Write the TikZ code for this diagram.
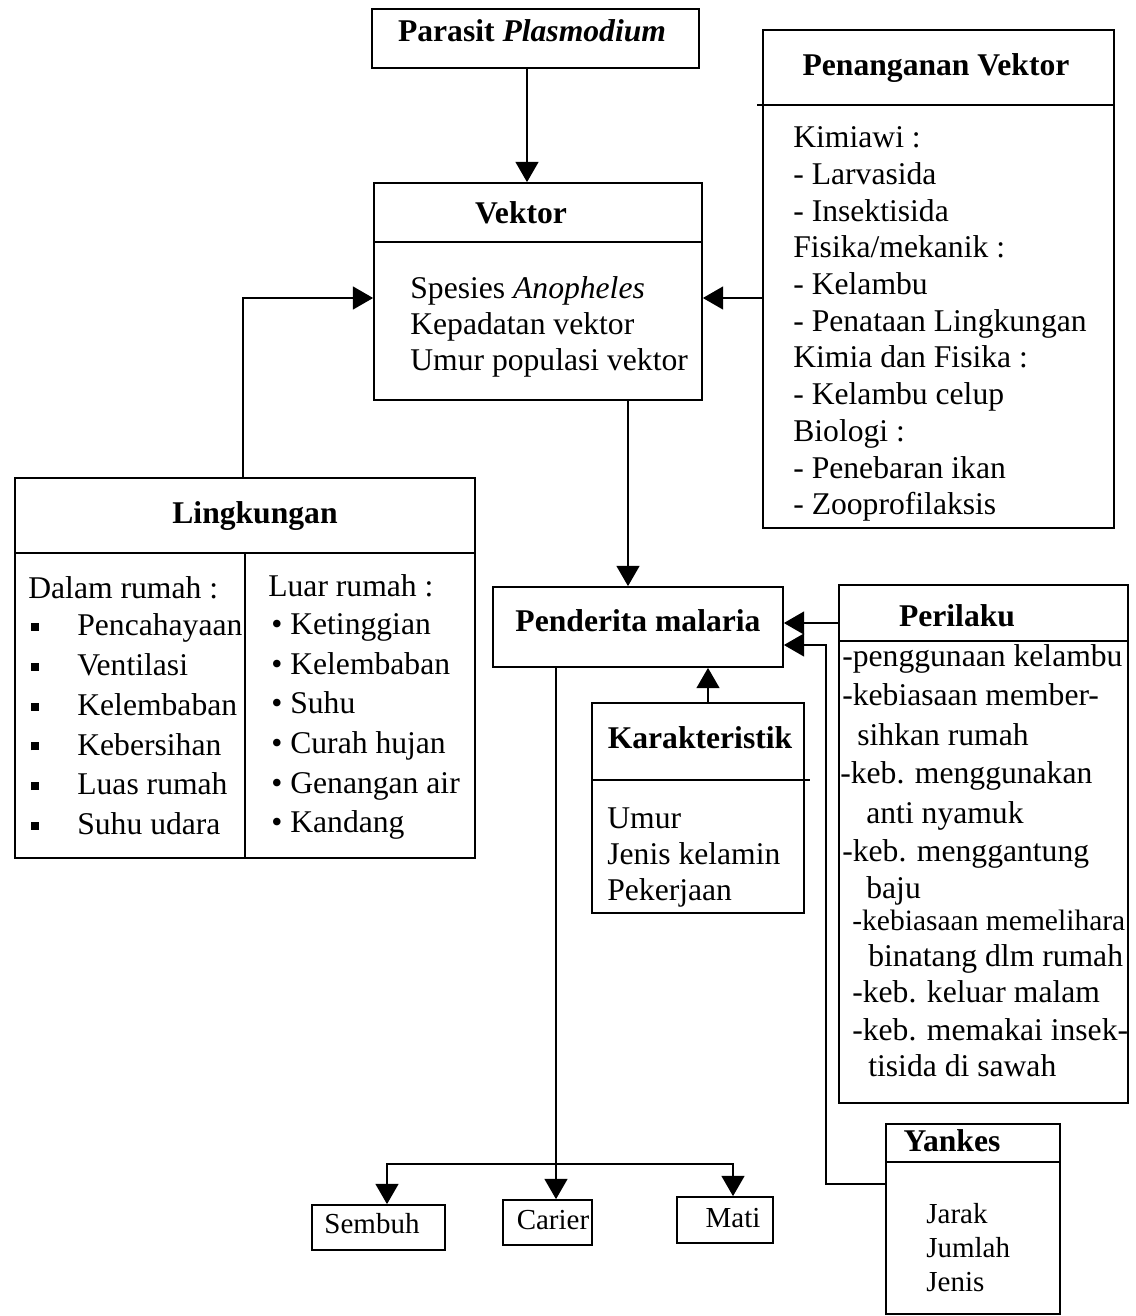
\documentclass[tikz,border=0pt]{standalone}
\usepackage{fontspec}
\setmainfont{Liberation Serif}
\usetikzlibrary{arrows.meta,fit}
\begin{document}
\begin{tikzpicture}[x=0.02cm,y=-0.02cm,
  box/.style={draw, line width=1pt, inner sep=0pt},
  txt/.style={inner sep=0pt, anchor=west, text height=13pt, text depth=3pt, font=\fontsize{18}{21}\selectfont},
  stxt/.style={txt, font=\fontsize{16.5}{19}\selectfont},
  ttl/.style={inner sep=0pt, text height=13pt, text depth=3pt, font=\fontsize{18}{21}\selectfont\bfseries},
  lbl/.style={inner sep=0pt, text height=13pt, text depth=3pt, font=\fontsize{16.5}{19}\selectfont},
  arr/.style={line width=1pt, -{Triangle[length=11.5pt,width=13pt]}},
  ln/.style={line width=1pt}]
\useasboundingbox (0,0) rectangle (1136,1316);

% boxes
\node[box, fit={(372,9) (699,68)}] (par) {};
\node[box, fit={(374,183) (702,400)}] (vek) {};
\node[box, fit={(763,30) (1114,528)}] (pv) {};
\node[box, fit={(15,478) (475,858)}] (lin) {};
\node[box, fit={(493,587) (783,667)}] (pen) {};
\node[box, fit={(839,585) (1128,1103)}] (per) {};
\node[box, fit={(592,703) (804,913)}] (kar) {};
\node[box, fit={(886,1124) (1060,1314)}] (yan) {};
\node[box, fit={(312,1205) (445,1250)}] (sem) {};
\node[box, fit={(503,1200) (592,1245)}] (car) {};
\node[box, fit={(677,1197) (773,1243)}] (mat) {};

% dividers
\draw[ln] (374,242) -- (702,242);
\draw[ln] (757,105) -- (1114,105);
\draw[ln] (15,553) -- (475,553);
\draw[ln] (245,553) -- (245,858);
\draw[ln] (839,641) -- (1128,641);
\draw[ln] (592,780) -- (810,780);
\draw[ln] (886,1162) -- (1060,1162);

% titles
\node[ttl] (tpar) at (532,33) {Parasit \textit{Plasmodium}};
\node[ttl] (tvek) at (521,215) {Vektor};
\node[ttl] (tpv) at (936,67) {Penanganan Vektor};
\node[ttl] (tlin) at (255,515) {Lingkungan};
\node[ttl] (tpen) at (638,623) {Penderita malaria};
\node[ttl] (tper) at (957,618) {Perilaku};
\node[ttl] (tkar) at (700,740) {Karakteristik};
\node[ttl] (tyan) at (952,1143) {Yankes};
\node[lbl] (tsem) at (372,1225) {Sembuh};
\node[lbl] (tcar) at (553,1221) {Carier};
\node[lbl] (tmat) at (733,1219) {Mati};

% Vektor body
\foreach \t [count=\i] in {Spesies \textit{Anopheles}, Kepadatan vektor, Umur populasi vektor}
  \node[txt] (vb\i) at (410,{290+36*(\i-1)}) {\t};

% Penanganan body
\foreach \t [count=\i] in {Kimiawi :, - Larvasida, - Insektisida, Fisika/mekanik :, - Kelambu, - Penataan Lingkungan, Kimia dan Fisika :, - Kelambu celup, Biologi :, - Penebaran ikan, - Zooprofilaksis}
  \node[txt] (pb\i) at (793,{139+36.7*(\i-1)}) {\t};

% Lingkungan body
\node[txt] (ld0) at (28,590) {Dalam rumah :};
\foreach \t [count=\i] in {Pencahayaan, Ventilasi, Kelembaban, Kebersihan, Luas rumah, Suhu udara} {
  \node[inner sep=0pt] (lq\i) at (35,{627+39.8*(\i-1)}) {\rule{4.5pt}{4.5pt}};
  \node[txt] (ld\i) at (77,{627+39.8*(\i-1)}) {\t};
}
\node[txt] (lr0) at (268,588) {Luar rumah :};
\foreach \t [count=\i] in {Ketinggian, Kelembaban, Suhu, Curah hujan, Genangan air, Kandang}
  \node[txt] (lr\i) at (271,{626+39.6*(\i-1)}) {• \t};

% Perilaku body
\foreach \xx/\yy/\t [count=\i] in {842/658/-penggunaan kelambu, 842/697/-kebiasaan member-, 857/737/sihkan rumah, 840/775/-keb. menggunakan, 866/815/anti nyamuk, 842/853/-keb. menggantung, 866/890/baju, 868/958/binatang dlm rumah, 852/994/-keb. keluar malam, 852/1032/-keb. memakai insek-, 868/1068/tisida di sawah}
  \node[txt] (rb\i) at (\xx,\yy) {\t};
\node[txt, font=\fontsize{16.8}{19}\selectfont] (rbx) at (852,922) {-kebiasaan memelihara};

% Karakteristik body
\foreach \t [count=\i] in {Umur, Jenis kelamin, Pekerjaan}
  \node[txt] (kb\i) at (607,{820+36*(\i-1)}) {\t};

% Yankes body
\foreach \t [count=\i] in {Jarak, Jumlah, Jenis}
  \node[stxt] (yb\i) at (926,{1215+34*(\i-1)}) {\t};

% helper coordinates
\coordinate (x527) at (527,0);
\coordinate (y298) at (0,298);
\coordinate (x243) at (243,0);
\coordinate (x628) at (628,0);
\coordinate (y623) at (0,623);
\coordinate (k1) at (826,1184);
\coordinate (k2) at (826,645);
\coordinate (x708) at (708,0);
\coordinate (x556) at (556,0);
\coordinate (j) at (556,1164);
\coordinate (x387) at (387,0);
\coordinate (x733) at (733,0);

% connectors
\draw[arr] (par.south -| x527) -- (vek.north -| x527);
\draw[arr] (pv.west |- y298) -- (vek.east |- y298);
\draw[arr] (lin.north -| x243) |- (vek.west |- y298);
\draw[arr] (vek.south -| x628) -- (pen.north -| x628);
\draw[arr] (per.west |- y623) -- (pen.east |- y623);
\draw[arr] (yan.west |- k1) -- (k1) -- (k2) -- (pen.east |- k2);
\draw[arr] (kar.north -| x708) -- (pen.south -| x708);
\draw[arr] (pen.south -| x556) -- (car.north -| x556);
\draw[arr] (j) -| (sem.north -| x387);
\draw[arr] (j) -| (mat.north -| x733);
\end{tikzpicture}
\end{document}
